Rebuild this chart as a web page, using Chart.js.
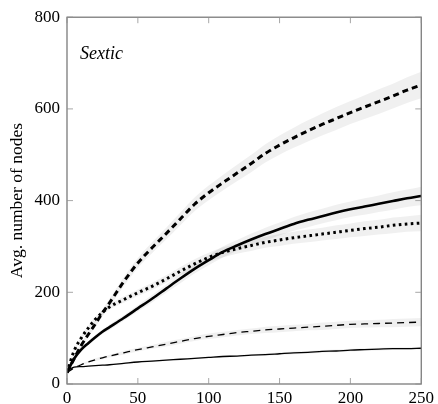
<!DOCTYPE html>
<html>
<head>
<meta charset="utf-8">
<script src="https://cdn.jsdelivr.net/npm/chart.js@4.4.0/dist/chart.umd.min.js"></script>
<style>
  html, body { margin: 0; padding: 0; background: #fff; }
  #wrap { width: 438px; height: 404px; }
</style>
</head>
<body>
<div id="wrap"><canvas id="nodesChart" width="438" height="404"></canvas></div>
<script>
// number of steps (x) and averages
const steps = [0, 5, 10, 15, 20, 25, 30, 40, 50, 60, 70, 80, 90, 100, 110, 120, 130, 140, 150, 160, 170, 180, 190, 200, 210, 220, 230, 240, 250];

const thickDashed = [25, 55, 84, 108, 131, 155, 177, 223, 264, 297, 328, 360, 392, 417, 439, 460, 481, 503, 521, 537, 552, 566, 579, 592, 604, 616, 628, 641, 652];
const thickSolid  = [25, 55, 75, 89, 102, 114, 124, 144, 165, 186, 208, 230, 251, 270, 288, 302, 315, 327, 338, 349, 358, 366, 374, 381, 387, 393, 399, 405, 410];
const thickDotted = [25, 72, 100, 122, 141, 156, 168, 184, 199, 213, 229, 246, 262, 276, 287, 295, 302, 309, 314, 319, 323, 327, 331, 335, 339, 342, 346, 349, 351];
const thinDashed  = [25, 35, 42, 48, 53, 57, 61, 68, 75, 81, 87, 93, 99, 104, 108, 112, 115, 118, 120, 122, 124, 126, 128, 130, 131, 132, 133, 134, 135];
const thinSolid   = [28, 37, 38, 39, 40, 41, 42, 45, 48, 50, 52, 54, 56, 58, 60, 61, 63, 64, 66, 68, 69, 71, 72, 74, 75, 76, 77, 77, 78];

// half width of the grey spread band around each line
const spreadDashed = [2, 4, 5, 6, 7, 8, 9, 10, 11, 12, 13, 14, 15, 16, 17, 18, 19, 20, 21, 22, 23, 24, 25, 25, 26, 27, 27, 28, 29];
const spreadSolid  = [2, 3, 4, 4, 5, 5, 6, 6, 7, 8, 9, 10, 10, 11, 12, 12, 13, 14, 14, 15, 16, 16, 17, 17, 18, 18, 19, 19, 20];
const spreadDotted = [2, 3, 4, 5, 5, 6, 6, 7, 7, 8, 8, 9, 10, 10, 11, 11, 12, 12, 13, 13, 14, 14, 15, 15, 16, 16, 17, 17, 18];
const spreadThin   = [1, 2, 2, 2, 3, 3, 3, 4, 4, 4, 5, 5, 5, 6, 6, 6, 6, 7, 7, 7, 7, 8, 8, 8, 8, 8, 9, 9, 9];
const spreadThinS  = [1, 1, 1, 1, 1, 1, 1, 2, 2, 2, 2, 2, 2, 2, 2, 2, 2, 3, 3, 3, 3, 3, 3, 3, 3, 3, 3, 3, 3];

const yTicks = [0, 200, 400, 600, 800];
const xTicks = [0, 50, 100, 150, 200, 250];

const serif = '"Liberation Serif", "DejaVu Serif", serif';
const bandColor = 'rgba(0,0,0,0.06)';

function points(vals) {
    return steps.map((s, i) => ({ x: s, y: vals[i] }));
}

function band(vals, spread) {
    const upper = steps.map((s, i) => ({ x: s, y: vals[i] + spread[i] }));
    const lower = steps.map((s, i) => ({ x: s, y: vals[i] - spread[i] }));
    return [
        { data: upper, borderWidth: 0, pointRadius: 0, fill: '+1', backgroundColor: bandColor, cubicInterpolationMode: 'monotone', order: 2 },
        { data: lower, borderWidth: 0, pointRadius: 0, fill: false, cubicInterpolationMode: 'monotone', order: 2 }
    ];
}

function line(vals, width, dash) {
    return {
        data: points(vals),
        borderColor: '#000',
        borderWidth: width,
        borderDash: dash,
        pointRadius: 0,
        fill: false,
        cubicInterpolationMode: 'monotone',
        order: 0
    };
}

const datasets = [
    ...band(thickDashed, spreadDashed),
    ...band(thickSolid, spreadSolid),
    ...band(thickDotted, spreadDotted),
    ...band(thinDashed, spreadThin),
    ...band(thinSolid, spreadThinS),
    line(thickDashed, 3, [6, 4]),
    line(thickSolid, 2.6, []),
    line(thickDotted, 3, [2.6, 3.4]),
    line(thinDashed, 1.3, [7, 5]),
    line(thinSolid, 1.3, [])
];

// frame, mirrored inner ticks and the "Sextic" label
const framePlugin = {
    id: 'frame',
    afterDatasetsDraw(chart) {
        const { ctx, chartArea: a, scales } = chart;
        ctx.save();
        ctx.strokeStyle = '#707070';
        ctx.lineWidth = 1.2;
        ctx.strokeRect(a.left, a.top, a.right - a.left, a.bottom - a.top);
        ctx.lineWidth = 0.8;
        ctx.strokeStyle = '#909090';
        ctx.beginPath();
        xTicks.forEach(v => {
            const px = scales.x.getPixelForValue(v);
            ctx.moveTo(px, a.bottom); ctx.lineTo(px, a.bottom - 6);
            ctx.moveTo(px, a.top); ctx.lineTo(px, a.top + 6);
        });
        yTicks.forEach(v => {
            const py = scales.y.getPixelForValue(v);
            ctx.moveTo(a.left, py); ctx.lineTo(a.left + 6, py);
            ctx.moveTo(a.right, py); ctx.lineTo(a.right - 6, py);
        });
        ctx.stroke();
        ctx.fillStyle = '#000';
        ctx.font = 'italic 18px ' + serif;
        ctx.textBaseline = 'alphabetic';
        ctx.fillText('Sextic', a.left + 13, a.top + 42);
        ctx.restore();
    }
};

new Chart(document.getElementById('nodesChart'), {
    type: 'line',
    data: { datasets: datasets },
    plugins: [framePlugin],
    options: {
        responsive: false,
        animation: false,
        layout: { padding: { top: 15, right: 14, left: 0, bottom: 0 } },
        plugins: {
            legend: { display: false },
            tooltip: { enabled: false }
        },
        scales: {
            x: {
                type: 'linear',
                min: 0,
                max: 250,
                grid: { display: false, drawTicks: false },
                border: { display: false },
                afterFit: scale => { scale.height = 20; },
                afterBuildTicks: scale => { scale.ticks = xTicks.map(v => ({ value: v })); },
                ticks: { color: '#000', padding: 4, font: { family: serif, size: 17 } }
            },
            y: {
                min: 0,
                max: 800,
                grid: { display: false, drawTicks: false },
                border: { display: false },
                afterFit: scale => { scale.width = 67; },
                afterBuildTicks: scale => { scale.ticks = yTicks.map(v => ({ value: v })); },
                ticks: { color: '#000', padding: 7, font: { family: serif, size: 17 } },
                title: {
                    display: true,
                    text: 'Avg. number of nodes',
                    color: '#000',
                    font: { family: serif, size: 17.5 },
                    padding: { top: 7, bottom: 0 }
                }
            }
        }
    }
});
</script>
</body>
</html>
